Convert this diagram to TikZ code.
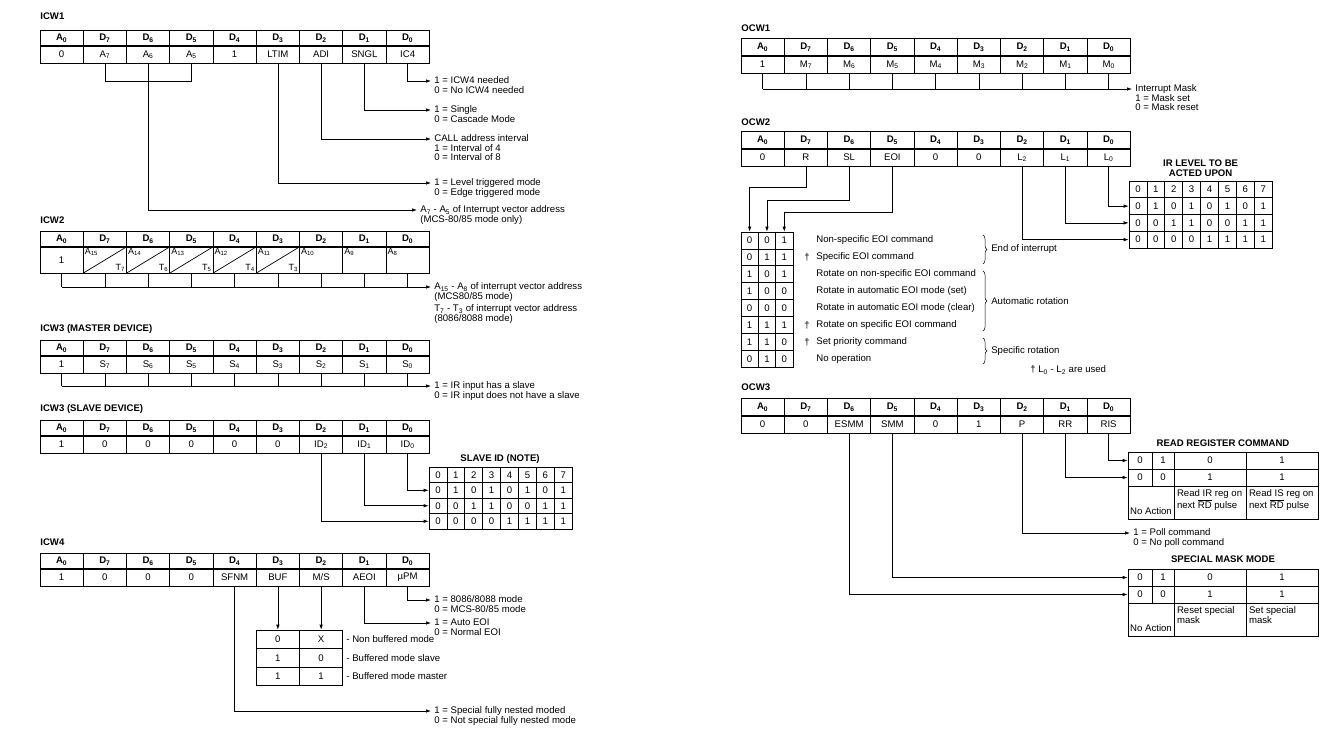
\documentclass[tikz,border=0pt]{standalone}
\usepackage{fontspec}
\setmainfont{Liberation Sans}
\usepackage{tikz}
\usetikzlibrary{arrows.meta, positioning, calc, decorations.pathreplacing}

\newcommand\bitnames{A\textsubscript{0},D\textsubscript{7},D\textsubscript{6},D\textsubscript{5},D\textsubscript{4},D\textsubscript{3},D\textsubscript{2},D\textsubscript{1},D\textsubscript{0}}

% register word: [row height]{name}{left}{top}{header height}{values}
\newcommand\regword[6][17]{%
  \foreach \h [count=\i from 0] in \bitnames
    \node[hdcell, minimum height=#5] (#2h\i) at ({#3+21.625+43.25*\i},{#4+#5/2}) {\h};
  \foreach \val [count=\i from 0] in {#6}
    \node[valcell, minimum height=#1] (#2v\i) at ({#3+21.625+43.25*\i},{#4+#5+#1/2}) {\val};
  \draw[sepline] (#3,#4+#5) -- ++(389.25,0);
}

% level table: {name}{left}{top}{cell width}{cell height}
\newcommand\idtable[5]{%
  \foreach \rr in {0,...,3}
    \foreach \cc in {0,...,7} {
      \pgfmathtruncatemacro\dd{\rr==0 ? \cc : mod(floor(\cc/2^(\rr-1)),2)}
      \node[cell, minimum width=#4, minimum height=#5] (#1\rr-\cc)
        at ({#2+#4*(\cc+0.5)},{#3+#5*(\rr+0.5)}) {\dd};
    }
}

% mode table: {name}{top}{text 3rd col}{text 4th col}
\newcommand\modetable[4]{%
  \foreach \rr/\va/\vb/\vc/\vd in {0/0/1/0/1,1/0/0/1/1} {
    \node[cell, minimum width=24] (#1\rr-0) at (1140,{#2+8.5+17*\rr}) {\va};
    \node[cell, minimum width=22] (#1\rr-1) at (1163,{#2+8.5+17*\rr}) {\vb};
    \node[cell, minimum width=72] (#1\rr-2) at (1210,{#2+8.5+17*\rr}) {\vc};
    \node[cell, minimum width=72] (#1\rr-3) at (1282,{#2+8.5+17*\rr}) {\vd};
  }
  \node[cell, minimum width=46, minimum height=33] (#12-0) at (1151,{#2+50.5}) {};
  \node[cell, minimum width=72, minimum height=33] (#12-2) at (1210,{#2+50.5}) {};
  \node[cell, minimum width=72, minimum height=33] (#12-3) at (1282,{#2+50.5}) {};
  \node[notetext, anchor=south] (#1na) at ([yshift=4pt]#12-0.south) {No Action};
  \node[notetext, anchor=north west] (#1ta) at ([xshift=3pt,yshift=-4pt]#12-2.north west) {#3};
  \node[notetext, anchor=north west] (#1tb) at ([xshift=3pt,yshift=-4pt]#12-3.north west) {#4};
}

\begin{document}
\begin{tikzpicture}[x=1pt, y=-1pt, line width=0.7pt,
    every node/.style={font=\fontsize{9.6}{9.5}\selectfont},
    cell/.style={draw, minimum height=17, inner sep=0pt},
    hdcell/.style={cell, minimum width=43.25, font=\fontsize{9.6}{9.5}\selectfont\bfseries},
    valcell/.style={cell, minimum width=43.25},
    sepline/.style={line width=2.6pt},
    title/.style={inner sep=0pt, font=\fontsize{9.6}{10.5}\selectfont\bfseries},
    notetext/.style={inner sep=0pt, align=left},
    note/.style={notetext, anchor=north west, xshift=3pt, yshift=4.5pt},
    cellnote/.style={inner sep=1.5pt, font=\fontsize{9}{9}\selectfont},
    arr/.style={-{Latex[length=5pt,width=3.5pt]}},
    brace/.style={decorate, decoration={brace, amplitude=4pt}, line width=0.5pt}]
  \useasboundingbox (0,0) rectangle (1344,729);
  \fill[white] (0,0) rectangle (1344,729);

  % ICW1
  \node[title, anchor=west] (icwalbl) at (40,16) {ICW1};
  \regword{icwa}{40}{30}{16}{0,A\textsubscript{7},A\textsubscript{6},A\textsubscript{5},1,LTIM,ADI,SNGL,IC4}
  \draw (icwav1.south) -- ++(0,18) -| (icwav3.south);
  \coordinate (ic4end) at (431,81);
  \coordinate (snglend) at (431,110);
  \coordinate (adiend) at (431,139);
  \coordinate (ltimend) at (431,183);
  \coordinate (a6end) at (417,210);
  \draw[arr] (icwav8.south) |- (ic4end);
  \draw[arr] (icwav7.south) |- (snglend);
  \draw[arr] (icwav6.south) |- (adiend);
  \draw[arr] (icwav5.south) |- (ltimend);
  \draw[arr] (icwav2.south) |- (a6end);
  \node[note] (ic4note) at (ic4end) {1 = ICW4 needed\\0 = No ICW4 needed};
  \node[note] (snglnote) at (snglend) {1 = Single\\0 = Cascade Mode};
  \node[note] (adinote) at (adiend) {CALL address interval\\1 = Interval of 4\\0 = Interval of 8};
  \node[note] (ltimnote) at (ltimend) {1 = Level triggered mode\\0 = Edge triggered mode};
  \node[note] (a6note) at (a6end) {A\textsubscript{7} - A\textsubscript{5} of Interrupt vector address\\(MCS-80/85 mode only)};

  % ICW2
  \node[title, anchor=west] (icwblbl) at (40,220) {ICW2};
  \regword[26]{icwb}{40}{231}{16}{1,{},{},{},{},{},{},{},{}}
  \foreach \i/\a/\t in {1/15/7,2/14/6,3/13/5,4/12/4,5/11/3} {
    \draw (icwbv\i.south west) -- (icwbv\i.north east);
    \node[cellnote, anchor=north west] (icwba\i) at (icwbv\i.north west) {A\textsubscript{\a}};
    \node[cellnote, anchor=south east] (icwbt\i) at (icwbv\i.south east) {T\textsubscript{\t}};
  }
  \foreach \i/\a in {6/10,7/9,8/8}
    \node[cellnote, anchor=north west] (icwba\i) at (icwbv\i.north west) {A\textsubscript{\a}};
  \coordinate (icwbend) at (431,287);
  \foreach \i in {0,...,8}
    \draw (icwbv\i.south) -- (icwbv\i.south |- icwbend);
  \draw[arr] (icwbv0.south |- icwbend) -- (icwbend);
  \node[note] (icwbnote) at (icwbend) {A\textsubscript{15} - A\textsubscript{8} of interrupt vector address\\(MCS80/85 mode)};
  \node[notetext, below=3pt of icwbnote.south west, anchor=north west] (icwbnote2) {T\textsubscript{7} - T\textsubscript{3} of interrupt vector address\\(8086/8088 mode)};

  % ICW3 master
  \node[title, anchor=west] (icwclbl) at (40,329) {ICW3 (MASTER DEVICE)};
  \regword{icwc}{40}{340}{16}{1,S\textsubscript{7},S\textsubscript{6},S\textsubscript{5},S\textsubscript{4},S\textsubscript{3},S\textsubscript{2},S\textsubscript{1},S\textsubscript{0}}
  \coordinate (icwcend) at (431,386);
  \foreach \i in {0,...,8}
    \draw (icwcv\i.south) -- (icwcv\i.south |- icwcend);
  \draw[arr] (icwcv0.south |- icwcend) -- (icwcend);
  \node[note] (icwcnote) at (icwcend) {1 = IR input has a slave\\0 = IR input does not have a slave};

  % ICW3 slave
  \node[title, anchor=west] (icwdlbl) at (40,409) {ICW3 (SLAVE DEVICE)};
  \regword{icwd}{40}{420}{16}{1,0,0,0,0,0,ID\textsubscript{2},ID\textsubscript{1},ID\textsubscript{0}}
  \node[title] (sidlbl) at (500,459) {SLAVE ID (NOTE)};
  \idtable{sid}{429}{467}{17.9}{15.5}
  \draw[arr] (icwdv8.south) |- (sid1-0.west);
  \draw[arr] (icwdv7.south) |- (sid2-0.west);
  \draw[arr] (icwdv6.south) |- (sid3-0.west);

  % ICW4
  \node[title, anchor=west] (icwelbl) at (40,542) {ICW4};
  \regword{icwe}{40}{553}{16}{1,0,0,0,SFNM,BUF,M/S,AEOI,µPM}
  \coordinate (upmend) at (431,600);
  \coordinate (aeoiend) at (431,623);
  \coordinate (sfnmend) at (431,711);
  \draw[arr] (icwev8.south) |- (upmend);
  \draw[arr] (icwev7.south) |- (aeoiend);
  \draw[arr] (icwev4.south) |- (sfnmend);
  \node[note] (upmnote) at (upmend) {1 = 8086/8088 mode\\0 = MCS-80/85 mode};
  \node[note] (aeoinote) at (aeoiend) {1 = Auto EOI\\0 = Normal EOI};
  \node[note] (sfnmnote) at (sfnmend) {1 = Special fully nested moded\\0 = Not special fully nested mode};
  \foreach \rr/\va/\vb/\txt in {0/0/X/Non buffered mode,1/1/0/Buffered mode slave,2/1/1/Buffered mode master} {
    \node[valcell, minimum height=18.5] (buf\rr-0) at (277.875,{639.25+18.5*\rr}) {\va};
    \node[valcell, minimum height=18.5] (buf\rr-1) at (321.125,{639.25+18.5*\rr}) {\vb};
    \node[notetext, anchor=west] (bufnote\rr) at ([xshift=3pt]buf\rr-1.east) {- \txt};
  }
  \draw[arr] (icwev5.south) -- (buf0-0.north);
  \draw[arr] (icwev6.south) -- (buf0-1.north);

  % OCW1
  \node[title, anchor=west] (ocwalbl) at (741,28) {OCW1};
  \regword{ocwa}{741}{38}{18}{1,M\textsubscript{7},M\textsubscript{6},M\textsubscript{5},M\textsubscript{4},M\textsubscript{3},M\textsubscript{2},M\textsubscript{1},M\textsubscript{0}}
  \coordinate (ocwaend) at (1132,89);
  \foreach \i in {0,...,8}
    \draw (ocwav\i.south) -- (ocwav\i.south |- ocwaend);
  \draw[arr] (ocwav0.south |- ocwaend) -- (ocwaend);
  \node[note] (ocwanote) at (ocwaend) {Interrupt Mask\\1 = Mask set\\0 = Mask reset};

  % OCW2
  \node[title, anchor=west] (ocwblbl) at (741,122) {OCW2};
  \regword{ocwb}{741}{131}{18}{0,R,SL,EOI,0,0,L\textsubscript{2},L\textsubscript{1},L\textsubscript{0}}
  \node[title, align=center] (irllbl) at (1200.6,168) {IR LEVEL TO BE\\ACTED UPON};
  \idtable{irl}{1129}{181}{17.9}{16.75}
  \draw[arr] (ocwbv8.south) |- (irl1-0.west);
  \draw[arr] (ocwbv7.south) |- (irl2-0.west);
  \draw[arr] (ocwbv6.south) |- (irl3-0.west);
  \foreach \rr/\va/\vb/\vc/\txt in {0/0/0/1/Non-specific EOI command,1/0/1/1/Specific EOI command,
      2/1/0/1/Rotate on non-specific EOI command,3/1/0/0/Rotate in automatic EOI mode (set),
      4/0/0/0/Rotate in automatic EOI mode (clear),5/1/1/1/Rotate on specific EOI command,
      6/1/1/0/Set priority command,7/0/1/0/No operation} {
    \node[cell, minimum width=17.3, minimum height=16.9] (cmd\rr-0) at (749.65,{240.45+16.9*\rr}) {\va};
    \node[cell, minimum width=17.3, minimum height=16.9] (cmd\rr-1) at (766.95,{240.45+16.9*\rr}) {\vb};
    \node[cell, minimum width=17.3, minimum height=16.9] (cmd\rr-2) at (784.25,{240.45+16.9*\rr}) {\vc};
    \node[notetext, anchor=west] (cmdt\rr) at (816,{240.45+16.9*\rr}) {\txt};
  }
  \foreach \rr in {1,5,6}
    \node[notetext, anchor=east] (cmdd\rr) at ([xshift=-6pt]cmdt\rr.west) {†};
  \draw[arr] (ocwbv1.south) -- ++(0,21) -| (cmd0-0.north);
  \draw[arr] (ocwbv2.south) -- ++(0,34) -| (cmd0-1.north);
  \draw[arr] (ocwbv3.south) -- ++(0,46) -| (cmd0-2.north);
  \draw[brace] (983,235) -- (983,264) node[notetext, midway, right=8pt] (eoilbl) {End of interrupt};
  \draw[brace] (983,271) -- (983,331) node[notetext, midway, right=8pt] (autolbl) {Automatic rotation};
  \draw[brace] (983,338) -- (983,364) node[notetext, midway, right=8pt] (speclbl) {Specific rotation};
  \node[notetext, anchor=west] (daglbl) at (1030,370) {† L\textsubscript{0} - L\textsubscript{2} are used};

  % OCW3
  \node[title, anchor=west] (ocwclbl) at (741,387) {OCW3};
  \regword{ocwc}{741}{398}{18}{0,0,ESMM,SMM,0,1,P,RR,RIS}
  \node[title] (rrclbl) at (1223,443) {READ REGISTER COMMAND};
  \modetable{rrc}{452}{Read IR reg on\\next $\overline{\mbox{RD}}$ pulse}{Read IS reg on\\next $\overline{\mbox{RD}}$ pulse}
  \draw[arr] (ocwcv8.south) |- (rrc0-0.west);
  \draw[arr] (ocwcv7.south) |- (rrc1-0.west);
  \coordinate (pend) at (1130,533);
  \draw[arr] (ocwcv6.south) |- (pend);
  \node[note] (pnote) at (pend) {1 = Poll command\\0 = No poll command};
  \node[title] (smmlbl) at (1223,559) {SPECIAL MASK MODE};
  \modetable{smm}{569}{Reset special\\mask}{Set special\\mask}
  \draw[arr] (ocwcv3.south) |- (smm0-0.west);
  \draw[arr] (ocwcv2.south) |- (smm1-0.west);
\end{tikzpicture}
\end{document}
